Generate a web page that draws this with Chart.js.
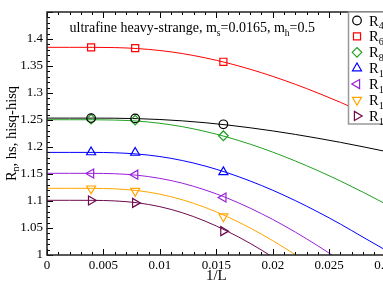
<!DOCTYPE html>
<html>
<head>
<meta charset="utf-8">
<script src="https://cdn.jsdelivr.net/npm/chart.js@4.4.1/dist/chart.umd.min.js"></script>
<style>
  html, body { margin: 0; padding: 0; background: #fff; overflow: hidden; }
  #wrap { width: 383px; height: 296px; overflow: hidden; }
</style>
</head>
<body>
<div id="wrap"><canvas id="chart" width="400" height="296"></canvas></div>
<script>
// x positions of the fit curves (1/L)
const curveX = [0, 0.002, 0.004, 0.006, 0.008, 0.010, 0.012, 0.014, 0.016, 0.018, 0.020, 0.022, 0.024, 0.026, 0.028, 0.030];

// fit curves
const fitR4  = [1.2535, 1.2535, 1.2535, 1.2533, 1.2525, 1.2509, 1.2484, 1.2450, 1.2407, 1.2356, 1.2298, 1.2233, 1.2162, 1.2086, 1.2004, 1.1918];
const fitR6  = [1.3846, 1.3846, 1.3846, 1.3841, 1.3823, 1.3787, 1.3730, 1.3652, 1.3555, 1.3440, 1.3308, 1.3161, 1.3000, 1.2827, 1.2642, 1.2447];
const fitR8  = [1.2505, 1.2505, 1.2505, 1.2499, 1.2480, 1.2439, 1.2376, 1.2289, 1.2181, 1.2052, 1.1905, 1.1741, 1.1562, 1.1369, 1.1163, 1.0945];
const fitR10 = [1.1900, 1.1900, 1.1900, 1.1893, 1.1870, 1.1823, 1.1749, 1.1648, 1.1521, 1.1370, 1.1199, 1.1007, 1.0797, 1.0572, 1.0330, 1.0090];
const fitR12 = [1.1513, 1.1513, 1.1512, 1.1505, 1.1477, 1.1419, 1.1329, 1.1205, 1.1051, 1.0867, 1.0658, 1.0424, 1.0169, 0.9894, 0.9600, 0.9290];
const fitR14 = [1.1235, 1.1235, 1.1234, 1.1225, 1.1193, 1.1126, 1.1022, 1.0882, 1.0706, 1.0500, 1.0265, 1.0005, 0.9720, 0.9410];
const fitR16 = [1.1013, 1.1013, 1.1012, 1.1002, 1.0967, 1.0895, 1.0782, 1.0628, 1.0437, 1.0215, 0.9960, 0.9670, 0.9350];

// lattice points, L = 256, 128, 64
const pointX = [0.00390625, 0.0078125, 0.015625];
const ptR4  = [1.2535, 1.2530, 1.2420];
const ptR6  = [1.3846, 1.3832, 1.3578];
const ptR8  = [1.2515, 1.2497, 1.2208];
const ptR10 = [1.1905, 1.1895, 1.1535];
const ptR12 = [1.1510, 1.1488, 1.1065];
const ptR14 = [1.1230, 1.1185, 1.0712];
const ptR16 = [1.1010, 1.0965, 1.0442];

const legendSub = ['4', '6', '8', '10', '12', '14', '16'];
const xTicks = [0, 0.005, 0.01, 0.015, 0.02, 0.025, 0.03];
const yTicks = [1, 1.05, 1.1, 1.15, 1.2, 1.25, 1.3, 1.35, 1.4];

const SERIF = '"Liberation Serif", "Times New Roman", serif';

const series = [
  { fit: fitR4,  pts: ptR4,  color: '#000000', style: 'circle',   rot: 0,   r: 4.3 },
  { fit: fitR6,  pts: ptR6,  color: '#ff0000', style: 'rect',     rot: 0,   r: 5 },
  { fit: fitR8,  pts: ptR8,  color: '#20a020', style: 'rectRot',  rot: 0,   r: 4.8 },
  { fit: fitR10, pts: ptR10, color: '#0000ff', style: 'triangle', rot: 0,   r: 5.2 },
  { fit: fitR12, pts: ptR12, color: '#9a20d8', style: 'triangle', rot: 270, r: 5.2 },
  { fit: fitR14, pts: ptR14, color: '#ffa500', style: 'triangle', rot: 180, r: 5.2 },
  { fit: fitR16, pts: ptR16, color: '#6e0a4e', style: 'triangle', rot: 90,  r: 5.2 }
];

const datasets = [];
series.forEach(function (s, i) {
  datasets.push({
    type: 'line',
    label: 'fit R' + legendSub[i],
    data: s.fit.map((v, k) => ({ x: curveX[k], y: v })),
    borderColor: s.color,
    borderWidth: 1,
    pointRadius: 0,
    fill: false,
    cubicInterpolationMode: 'monotone',
    order: 2
  });
});
series.forEach(function (s, i) {
  datasets.push({
    type: 'scatter',
    label: 'R' + legendSub[i],
    data: s.pts.map((v, k) => ({ x: pointX[k], y: v })),
    borderColor: s.color,
    backgroundColor: 'rgba(0,0,0,0)',
    borderWidth: 1.2,
    pointStyle: s.style,
    rotation: s.rot,
    pointRadius: s.r,
    showLine: false,
    order: 1
  });
});

function fmt(v) {
  return parseFloat(v.toFixed(3)).toString();
}

// draws text pieces, some of them as subscripts
function drawParts(ctx, parts, x, y, size, subSize) {
  let cx = x;
  parts.forEach(function (p) {
    ctx.font = (p.sub ? subSize : size) + 'px ' + SERIF;
    ctx.fillText(p.t, cx, p.sub ? y + size * 0.25 : y);
    cx += ctx.measureText(p.t).width;
  });
  return cx;
}

const decorPlugin = {
  id: 'decor',
  afterDraw(chart) {
    const ctx = chart.ctx;
    const a = chart.chartArea;
    const x = chart.scales.x, y = chart.scales.y;
    ctx.save();

    // inward ticks, major and minor
    ctx.strokeStyle = '#000';
    ctx.lineWidth = 1;
    ctx.beginPath();
    for (let i = 0; i <= 30; i++) {
      const px = Math.round(x.getPixelForValue(i / 1000)) + 0.5;
      const len = i % 5 === 0 ? 6 : 3;
      ctx.moveTo(px, a.bottom); ctx.lineTo(px, a.bottom - len);
      ctx.moveTo(px, a.top); ctx.lineTo(px, a.top + len);
    }
    for (let i = 0; i <= 45; i++) {
      const py = Math.round(y.getPixelForValue(1 + i / 100)) + 0.5;
      const len = i % 5 === 0 ? 6 : 3;
      ctx.moveTo(a.left, py); ctx.lineTo(a.left + len, py);
    }
    ctx.stroke();

    // frame
    ctx.lineWidth = 1.5;
    ctx.strokeStyle = '#222';
    ctx.strokeRect(a.left, a.top, a.right - a.left, a.bottom - a.top);

    ctx.fillStyle = '#000';
    ctx.textBaseline = 'alphabetic';
    ctx.textAlign = 'left';

    // title inside the plot
    drawParts(ctx, [
      { t: 'ultrafine heavy-strange, m' }, { t: 's', sub: true },
      { t: '=0.0165, m' }, { t: 'h', sub: true }, { t: '=0.5' }
    ], 69.5, 32, 14, 9.5);

    // x axis title
    ctx.font = '15px ' + SERIF;
    ctx.textAlign = 'center';
    ctx.fillText('1/L', (a.left + a.right) / 2, 280);

    // y axis title
    ctx.save();
    ctx.translate(15.5, (a.top + a.bottom) / 2);
    ctx.rotate(-Math.PI / 2);
    ctx.textAlign = 'left';
    const yParts = [{ t: 'R' }, { t: 'n', sub: true }, { t: ', hs, hisq-hisq' }];
    let w = 0;
    yParts.forEach(function (p) {
      ctx.font = (p.sub ? 10 : 14.5) + 'px ' + SERIF;
      w += ctx.measureText(p.t).width;
    });
    drawParts(ctx, yParts, -w / 2, 0, 14.5, 10);
    ctx.restore();

    // legend box
    const lx = 348.5, ly = a.top, lh = 112;
    ctx.fillStyle = '#fff';
    ctx.fillRect(lx, ly, 60, lh);
    ctx.strokeStyle = '#999';
    ctx.lineWidth = 1.5;
    ctx.strokeRect(lx, ly, 60, lh);
    series.forEach(function (s, i) {
      const cy = ly + 8.5 + i * 15.9;
      ctx.strokeStyle = s.color;
      ctx.fillStyle = 'rgba(0,0,0,0)';
      ctx.lineWidth = 1.2;
      Chart.helpers.drawPoint(ctx, { pointStyle: s.style, rotation: s.rot, radius: s.r, borderWidth: 1.2 }, 357, cy);
      ctx.fillStyle = '#000';
      ctx.textAlign = 'left';
      drawParts(ctx, [{ t: 'R' }, { t: legendSub[i], sub: true }], 369, cy + 5, 14.5, 10);
    });

    ctx.restore();
  }
};

new Chart(document.getElementById('chart'), {
  data: { datasets: datasets },
  options: {
    responsive: false,
    devicePixelRatio: 1,
    animation: false,
    layout: { padding: { top: 12, right: 13, left: 0, bottom: 0 } },
    plugins: { legend: { display: false }, tooltip: { enabled: false } },
    scales: {
      x: {
        type: 'linear', min: 0, max: 0.03,
        afterFit(scale) { scale.height = 41; },
        afterBuildTicks(scale) { scale.ticks = xTicks.map(v => ({ value: v })); },
        ticks: {
          autoSkip: false, maxRotation: 0, padding: 3, color: '#000',
          font: { family: SERIF, size: 13 },
          callback: v => fmt(v)
        },
        grid: { display: false, drawTicks: false, tickLength: 0 },
        border: { display: false }
      },
      y: {
        type: 'linear', min: 1, max: 1.45,
        afterFit(scale) { scale.width = 47; },
        afterBuildTicks(scale) { scale.ticks = yTicks.map(v => ({ value: v })); },
        ticks: {
          autoSkip: false, padding: 4, color: '#000',
          font: { family: SERIF, size: 13 },
          callback: v => fmt(v)
        },
        grid: { display: false, drawTicks: false, tickLength: 0 },
        border: { display: false }
      }
    }
  },
  plugins: [decorPlugin]
});
</script>
</body>
</html>
